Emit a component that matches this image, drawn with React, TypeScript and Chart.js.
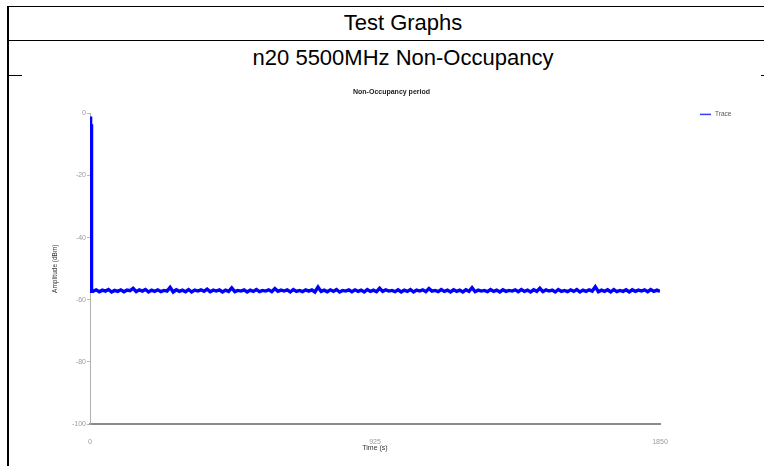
import React, { useEffect, useRef } from "react";
import { Chart, registerables } from "chart.js";

Chart.register(...registerables);

const headerTitle = "Test Graphs";
const headerSubtitle = "n20 5500MHz Non-Occupancy";
const chartTitle = "Non-Occupancy period";
const seriesName = "Trace";
const xAxisTitle = "Time (s)";
const yAxisTitle = "Amplitude (dBm)";
const xTickValues = [0, 925, 1850];
const yMin = -100;
const yMax = 0;
const yStep = 20;

const timeS = [
  0, 1, 2, 3, 4, 5,
  10, 20, 30, 40, 50, 60, 70, 80, 90, 100,
  110, 120, 130, 140, 150, 160, 170, 180, 190, 200,
  210, 220, 230, 240, 250, 260, 270, 280, 290, 300,
  310, 320, 330, 340, 350, 360, 370, 380, 390, 400,
  410, 420, 430, 440, 450, 460, 470, 480, 490, 500,
  510, 520, 530, 540, 550, 560, 570, 580, 590, 600,
  610, 620, 630, 640, 650, 660, 670, 680, 690, 700,
  710, 720, 730, 740, 750, 760, 770, 780, 790, 800,
  810, 820, 830, 840, 850, 860, 870, 880, 890, 900,
  910, 920, 930, 940, 950, 960, 970, 980, 990, 1000,
  1010, 1020, 1030, 1040, 1050, 1060, 1070, 1080, 1090, 1100,
  1110, 1120, 1130, 1140, 1150, 1160, 1170, 1180, 1190, 1200,
  1210, 1220, 1230, 1240, 1250, 1260, 1270, 1280, 1290, 1300,
  1310, 1320, 1330, 1340, 1350, 1360, 1370, 1380, 1390, 1400,
  1410, 1420, 1430, 1440, 1450, 1460, 1470, 1480, 1490, 1500,
  1510, 1520, 1530, 1540, 1550, 1560, 1570, 1580, 1590, 1600,
  1610, 1620, 1630, 1640, 1650, 1660, 1670, 1680, 1690, 1700,
  1710, 1720, 1730, 1740, 1750, 1760, 1770, 1780, 1790, 1800,
  1810, 1820, 1830, 1840, 1850,
];

const amplitudeDbm = [
  -1.0, -6.0, -2.5, -5.0, -3.5, -57.3,
  -57.3, -56.8, -57.4, -56.9, -57.2, -56.7, -57.5, -57.0, -57.3, -56.8,
  -57.4, -56.9, -57.1, -56.3, -57.4, -56.8, -57.2, -56.7, -57.5, -56.9,
  -57.3, -56.8, -57.4, -57.0, -57.2, -56.0, -57.5, -56.8, -57.3, -56.9,
  -57.4, -56.7, -57.5, -56.9, -57.2, -56.8, -57.3, -56.6, -57.4, -56.9,
  -57.2, -56.8, -57.5, -56.9, -57.3, -56.2, -57.4, -57.0, -57.2, -56.8,
  -57.5, -56.9, -57.3, -56.7, -57.4, -57.0, -57.2, -56.8, -57.4, -56.4,
  -57.3, -56.9, -57.2, -56.8, -57.5, -56.7, -57.3, -57.0, -57.4, -56.8,
  -57.2, -56.8, -57.5, -55.9, -57.3, -56.9, -57.4, -56.8, -57.3, -56.7,
  -57.5, -57.0, -57.2, -56.8, -57.4, -56.8, -57.3, -56.9, -57.5, -56.7,
  -57.3, -56.9, -57.4, -56.3, -57.3, -56.8, -57.2, -57.0, -57.4, -56.8,
  -57.5, -56.9, -57.3, -56.7, -57.5, -56.9, -57.2, -56.8, -57.4, -56.4,
  -57.2, -57.0, -57.4, -56.7, -57.3, -56.9, -57.5, -56.8, -57.3, -56.9,
  -57.5, -56.8, -57.3, -56.1, -57.4, -56.9, -57.2, -57.0, -57.4, -56.7,
  -57.3, -56.9, -57.5, -56.8, -57.3, -57.0, -57.2, -56.8, -57.4, -56.7,
  -57.3, -56.9, -57.5, -56.8, -57.3, -56.3, -57.4, -56.8, -57.2, -56.9,
  -57.5, -56.7, -57.3, -57.0, -57.4, -56.8, -57.3, -56.7, -57.5, -56.9,
  -57.3, -56.8, -57.2, -55.8, -57.4, -56.9, -57.3, -56.8, -57.5, -56.7,
  -57.4, -57.0, -57.3, -56.8, -57.5, -56.8, -57.3, -56.9, -57.2, -56.8,
  -57.4, -56.7, -57.3, -56.9, -57.3,
];

const FONT = "'Liberation Sans', Arial, sans-serif";

const legendPlugin = {
  id: "sideLegend",
  afterDraw(chart: any) {
    const { ctx, chartArea } = chart;
    const x = chartArea.right + 40;
    const y = chartArea.top + 1;
    ctx.save();
    ctx.strokeStyle = "#3b3bff";
    ctx.lineWidth = 1.5;
    ctx.beginPath();
    ctx.moveTo(x, y);
    ctx.lineTo(x + 11, y);
    ctx.stroke();
    ctx.fillStyle = "#555";
    ctx.font = `6.5px ${FONT}`;
    ctx.textBaseline = "middle";
    ctx.textAlign = "left";
    ctx.fillText(seriesName, x + 15, y);
    ctx.restore();
  },
};

function TraceChart() {
  const ref = useRef<HTMLCanvasElement | null>(null);
  useEffect(() => {
    if (!ref.current) return;
    const points = timeS.map((t, i) => ({ x: t, y: amplitudeDbm[i] }));
    const chart = new Chart(ref.current, {
      type: "line",
      data: {
        datasets: [
          {
            label: seriesName,
            data: points,
            borderColor: "#0000ff",
            backgroundColor: "#0000ff",
            borderWidth: 3.4,
            pointRadius: 0,
            tension: 0,
            yAxisID: "y",
          },
        ],
      },
      plugins: [legendPlugin],
      options: {
        animation: false,
        responsive: false,
        maintainAspectRatio: false,
        layout: { padding: { left: 0, right: 0, top: 0, bottom: 14 } },
        plugins: {
          legend: { display: false },
          tooltip: { enabled: false },
          title: {
            display: true,
            text: chartTitle,
            color: "#222",
            font: { family: FONT, size: 7, weight: "bold" },
            padding: { top: 13, bottom: 17 },
          },
        },
        scales: {
          x: {
            type: "linear",
            min: 0,
            max: 1850,
            afterFit: (s: any) => {
              s.height = 28;
            },
            afterBuildTicks: (s: any) => {
              s.ticks = xTickValues.map((v) => ({ value: v }));
            },
            grid: { display: false },
            border: { display: true, color: "#8a8a8a", width: 2 },
            ticks: {
              color: "#9a9a9a",
              font: { family: FONT, size: 7 },
              padding: 6,
              maxRotation: 0,
              callback: (v: any) => String(v),
            },
            title: {
              display: true,
              text: xAxisTitle,
              color: "#333",
              font: { family: FONT, size: 7 },
              padding: 0,
            },
          },
          y: {
            type: "linear",
            position: "left",
            min: yMin,
            max: yMax,
            afterFit: (s: any) => {
              s.width = 68;
            },
            grid: {
              display: true,
              drawOnChartArea: false,
              drawTicks: true,
              tickLength: 3,
              color: "#b8b8b8",
            },
            border: { display: true, color: "#b0b0b0", width: 1, dash: [1, 1] },
            ticks: {
              stepSize: yStep,
              color: "#9a9a9a",
              font: { family: FONT, size: 7 },
              padding: 1,
            },
            title: {
              display: true,
              text: yAxisTitle,
              color: "#333",
              font: { family: FONT, size: 6.5 },
              padding: { top: 29, bottom: 0 },
            },
          },
          ySpace: {
            type: "linear",
            position: "right",
            min: yMin,
            max: yMax,
            display: true,
            afterFit: (s: any) => {
              s.width = 101;
            },
            grid: { display: false },
            border: { display: false },
            ticks: { display: false },
          },
        },
      },
    });
    return () => chart.destroy();
  }, []);
  return (
    <canvas
      ref={ref}
      width={739}
      height={391}
      style={{
        position: "absolute",
        left: 22,
        top: 75,
        width: 739,
        height: 391,
        background: "#fff",
      }}
    />
  );
}

export default function App() {
  const line = (s: React.CSSProperties) => (
    <div style={{ position: "absolute", background: "#000", ...s }} />
  );
  const textRow: React.CSSProperties = {
    position: "absolute",
    left: 8,
    width: 790,
    height: 34,
    lineHeight: "34px",
    fontSize: 22,
    textAlign: "center",
    color: "#000",
    fontFamily: FONT,
    whiteSpace: "nowrap",
  };
  return (
    <div
      style={{
        position: "fixed",
        left: 0,
        top: 0,
        width: 764,
        height: 466,
        overflow: "hidden",
        background: "#fff",
      }}
    >
      {line({ left: 7, top: 6, width: 800, height: 1 })}
      {line({ left: 7, top: 40, width: 800, height: 1 })}
      {line({ left: 7, top: 75, width: 800, height: 1 })}
      {line({ left: 7, top: 6, width: 2, height: 460 })}
      <div style={{ ...textRow, top: 6 }}>{headerTitle}</div>
      <div style={{ ...textRow, top: 41 }}>{headerSubtitle}</div>
      <TraceChart />
    </div>
  );
}
